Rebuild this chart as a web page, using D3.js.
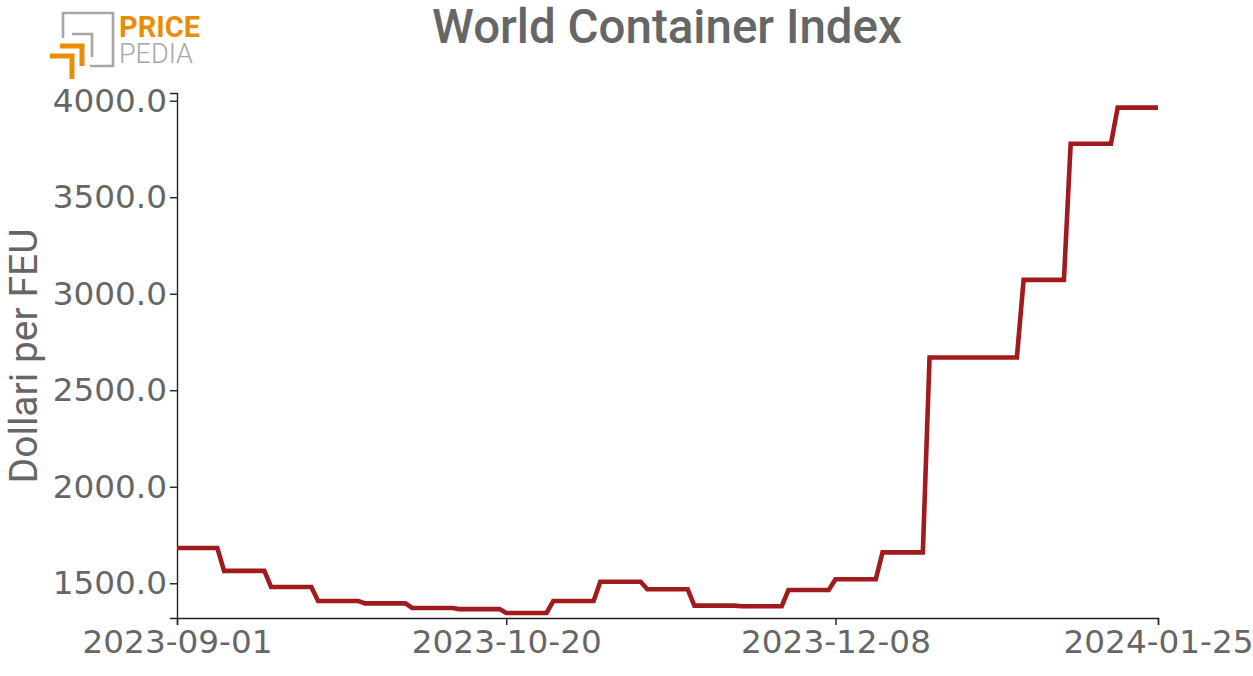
<!DOCTYPE html>
<html>
<head>
<meta charset="utf-8">
<script src="https://cdn.jsdelivr.net/npm/d3@7"></script>
<style>
  html, body { margin: 0; padding: 0; background: #fff; }
  svg { display: block; }
</style>
</head>
<body>
<svg id="chart" width="1253" height="676"></svg>
<script>
// ---- data (weekly levels, each holding for one week starting on the given day) ----
const weekStarts = ["2023-09-01","2023-09-08","2023-09-15","2023-09-22","2023-09-29",
  "2023-10-06","2023-10-13","2023-10-20","2023-10-27","2023-11-03","2023-11-10",
  "2023-11-17","2023-11-24","2023-12-01","2023-12-08","2023-12-15","2023-12-22",
  "2023-12-29","2024-01-05","2024-01-12","2024-01-19"];
const weekValues = [1683, 1564, 1481, 1408, 1396,
  1372, 1366, 1346, 1408, 1508, 1469,
  1384, 1381, 1465, 1521, 1660, 2670,
  2670, 3072, 3777, 3964];
const xTickLabels = ["2023-09-01","2023-10-20","2023-12-08","2024-01-25"];
const yTickValues = [1500, 2000, 2500, 3000, 3500, 4000];
const startDate = "2023-09-01", endDate = "2024-01-25";
const yDomain = [1320, 4040];

(function () {
const parse = d3.utcParse("%Y-%m-%d");
const fmt = d3.utcFormat("%Y-%m-%d");

const svg = d3.select("#chart");
const mLeft = 177, mRight = 1158, mTop = 93, mBottom = 618;

const x = d3.scaleUtc().domain([parse(startDate), parse(endDate)]).range([mLeft, mRight]);
const y = d3.scaleLinear().domain(yDomain).range([mBottom, mTop]);

// build the step series: value held from week start through the 6th day after
const endD = parse(endDate);
const pts = [];
weekStarts.forEach((s, i) => {
  const d0 = parse(s);
  let d1 = d3.utcDay.offset(d0, 6);
  if (d1 > endD) d1 = endD;
  pts.push([d0, weekValues[i]]);
  pts.push([d1, weekValues[i]]);
});

const textColor = "#666666";

// title
svg.append("text")
  .attr("x", 667).attr("y", 43)
  .attr("text-anchor", "middle")
  .attr("font-family", "Roboto")
  .attr("font-weight", 500)
  .attr("font-size", 47.5)
  .attr("fill", textColor)
  .text("World Container Index");

// y axis title
svg.append("text")
  .attr("transform", "translate(37,356) rotate(-90)")
  .attr("text-anchor", "middle")
  .attr("font-family", "Roboto")
  .attr("font-size", 39)
  .attr("fill", textColor)
  .text("Dollari per FEU");

// axes
const yAxis = d3.axisLeft(y).tickValues(yTickValues).tickFormat(d3.format(".1f"))
  .tickSizeInner(7).tickSizeOuter(7).tickPadding(3);
const gy = svg.append("g").attr("transform", `translate(${mLeft},0)`).call(yAxis);

const xAxis = d3.axisBottom(x).tickValues(xTickLabels.map(parse)).tickFormat(fmt)
  .tickSizeInner(7).tickSizeOuter(7).tickPadding(5);
const gx = svg.append("g").attr("transform", `translate(0,${mBottom})`).call(xAxis);

[gx, gy].forEach(g => {
  g.select(".domain").attr("stroke", "#222").attr("stroke-width", 1.4);
  g.selectAll(".tick line").attr("stroke", "#222").attr("stroke-width", 1.4);
  g.selectAll(".tick text")
    .attr("font-family", "DejaVu Sans")
    .attr("font-size", 32.7)
    .attr("fill", textColor);
});

// line
const line = d3.line().x(d => x(d[0])).y(d => y(d[1]));
svg.append("path")
  .datum(pts)
  .attr("fill", "none")
  .attr("stroke", "#a01b1d")
  .attr("stroke-width", 4.6)
  .attr("stroke-linejoin", "miter")
  .attr("d", line);

// logo
const logo = svg.append("g");
const gray = "#a6a6a6", orange = "#e88e06";
logo.append("path")
  .attr("d", "M63,38 V13 H113 V66 H90")
  .attr("fill", "none").attr("stroke", gray).attr("stroke-width", 2.6);
logo.append("path")
  .attr("d", "M72,34 H92 V57")
  .attr("fill", "none").attr("stroke", gray).attr("stroke-width", 2.6);
logo.append("path")
  .attr("d", "M60,46 H82 V66")
  .attr("fill", "none").attr("stroke", orange).attr("stroke-width", 5);
logo.append("path")
  .attr("d", "M50,56 H72 V79")
  .attr("fill", "none").attr("stroke", orange).attr("stroke-width", 5);
logo.append("text")
  .attr("x", 119).attr("y", 37)
  .attr("font-family", "Roboto").attr("font-weight", 700).attr("font-size", 29)
  .attr("fill", orange).text("PRICE");
logo.append("text")
  .attr("x", 119).attr("y", 63)
  .attr("font-family", "Roboto").attr("font-weight", 300).attr("font-size", 27)
  .attr("fill", gray).text("PEDIA");
})();
</script>
</body>
</html>
